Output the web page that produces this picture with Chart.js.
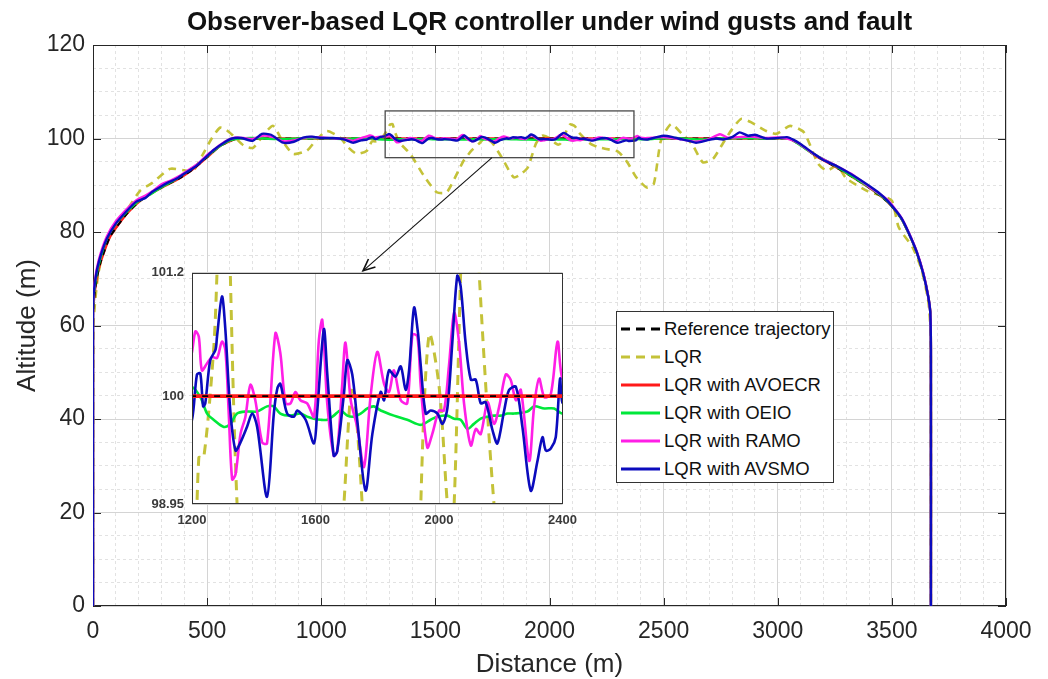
<!DOCTYPE html>
<html><head><meta charset="utf-8">
<script src="https://cdn.jsdelivr.net/npm/chart.js@4.4.1/dist/chart.umd.min.js"></script>
<style>
html,body{margin:0;padding:0;background:#fff;}
#wrap{position:relative;width:1048px;height:679px;overflow:hidden;background:#fff;}
#main{position:absolute;left:0;top:0;}
#inset{position:absolute;left:140px;top:257px;}
#legend{position:absolute;left:616px;top:311px;width:216px;height:170px;border:1px solid #333;background:#fff;font-family:"Liberation Sans",Arial,sans-serif;font-size:18.5px;color:#111;}
.row{position:absolute;left:0;height:28px;display:flex;align-items:center;}
.row svg{margin-left:3px;display:block;}
.row span{margin-left:3px;white-space:nowrap;}
</style></head>
<body>
<div id="wrap">
  <canvas id="main" width="1048" height="679"></canvas>
  <canvas id="inset" width="446" height="280"></canvas>
  <div id="legend"></div>
</div>
<script>
// ---------- data (Distance m, Altitude m) ----------
const refX = [0,0,10,30,75,150,220,300,380,440,500,560,630,680,1000,2000,3000,3050,3100,3160,3250,3320,3400,3480,3540,3575,3610,3638,3660,3668,3671,3671];
const refY = [0,62,68,73,79,84,87.2,89.5,91.5,93.5,96,98.5,100,100,100,100,100,100,98.6,96.5,94,92,89.5,86.5,83,79.6,75.5,71,66,63,55,0];

const avoecrX = refX.slice();
const avoecrY = refY.slice();

const lqrX = [0,2,20,50,88,140,206,260,337,400,438,480,520,556,585,614,660,701,750,789,830,877,937,980,1025,1082,1120,1156,1200,1222,1238,1270,1281,1300,1312,1324,1346,1390,1450,1506,1550,1600,1623,1660,1692,1719,1751,1790,1843,1875,1905,1941,1968,2000,2027,2038,2049,2070,2090,2112,2130,2178,2210,2243,2300,2340,2380,2427,2457,2488,2533,2580,2625,2672,2717,2760,2800,2840,2886,2950,2994,3054,3115,3177,3216,3260,3300,3391,3450,3500,3530,3591,3630,3660,3670,3671];
const lqrY = [0,60,70,77,80,84,88.8,90.5,93.5,93.2,93,96.5,100,102.3,101.8,100.6,98.5,98,101,102.7,99.5,96.7,97.4,99.8,101.6,100.2,98,96.7,97.4,99.4,99.4,100.45,101.2,102.9,103.1,101.2,98.95,96.7,92,88.5,88.5,93,95.2,97.5,98.95,100.1,98.95,96,91.7,92.4,93.8,98.95,100.6,100.1,98.95,98.7,98.95,101.2,103,102.6,101.2,98.95,98.2,97.8,97.2,95,91.7,89.5,90.3,99.5,103.1,101,98.8,94.9,95.7,99,102,104.2,103.4,101.6,101,102.7,101.3,94.6,93.1,94.2,91.5,88.8,87.8,86.7,81,76.7,72,65,58,0];

const oeioX = [0,0,8,25,60,100,150,200,250,300,350,400,450,500,550,600,640,700,800,900,1000,1100,1170,
  1200,1227,1249,1270,1303,1324,1346,1378,1411,1443,1465,1486,1519,1551,1573,1595,1616,1638,1659,1681,1703,1724,1746,1768,1789,1811,1854,1897,1941,1973,1995,2027,2049,2070,2092,2113,2135,2157,2178,2200,2222,2243,2286,2308,2341,2373,2400,
  2450,2550,2650,2750,2850,2950,3050,3100,3160,3250,3320,3400,3480,3540,3575,3610,3638,3660,3668,3671,3671];
const oeioY = [0,63,68.5,73,78.5,81.8,84.4,86.6,88,89.6,90.9,92.5,94.2,96.2,98.2,99.6,100,100.1,99.9,100,100.1,99.9,100.05,
  100.09,99.99,99.83,99.77,99.70,99.73,99.83,99.85,99.85,99.90,99.90,99.83,99.81,99.83,99.80,99.78,99.77,99.77,99.81,99.86,99.81,99.80,99.83,99.88,99.90,99.86,99.81,99.77,99.72,99.77,99.80,99.81,99.78,99.77,99.68,99.73,99.78,99.80,99.81,99.81,99.83,99.83,99.85,99.90,99.88,99.88,99.83,
  99.9,100.1,99.8,100,100.1,100,100,98.5,96.6,94.2,92.1,89.6,86.6,83,79.6,75.5,71,66,63,55,0];

const ramoX = [0,0,8,25,60,100,150,190,230,260,300,340,380,420,460,500,540,580,620,660,700,740,790,833,880,940,1000,1060,1100,1140,1175,
  1200,1211,1222,1232,1249,1265,1281,1297,1308,1319,1330,1341,1357,1373,1389,1405,1427,1443,1470,1486,1503,1519,1535,1551,1573,1595,1611,1622,1638,1659,1670,1686,1697,1714,1735,1757,1778,1800,1822,1838,1854,1876,1897,1914,1930,1941,1962,1978,2000,2016,2032,2049,2065,2081,2103,2119,2135,2157,2178,2195,2216,2232,2249,2265,2292,2308,2324,2341,2362,2384,2400,
  2430,2480,2540,2590,2640,2690,2747,2780,2830,2880,2950,3000,3040,3080,3120,3170,3250,3320,3400,3480,3540,3575,3610,3638,3660,3668,3671,3671];
const ramoY = [0,64,69.5,74,79,82.3,85,86.8,87.8,88.7,90.2,91,92,93.3,94.6,96.5,98,99.4,100.2,100.1,99.9,100.6,100.3,99.4,99.6,100.3,100.2,100,99.9,99.5,100.1,
  100.43,100.63,100.58,100.25,100.32,100.38,100.37,100.53,100.45,99.83,99.19,99.24,99.63,99.80,100.11,99.96,99.55,99.54,100.61,100.42,99.93,99.93,100.04,99.96,99.93,99.80,100.55,100.74,99.93,99.42,99.46,100.09,100.52,99.96,99.70,99.31,99.99,100.43,100.12,100.04,100.25,99.96,99.93,100.60,100.58,100.09,99.50,99.63,99.86,99.86,100.29,100.81,100.52,99.93,99.52,99.68,99.63,99.94,99.73,99.90,100.21,100.16,99.96,100.06,99.37,99.90,100.17,99.99,100.02,100.53,100.16,
  100.1,100.3,100.1,99.7,99.3,99.7,100.9,100.2,100.3,100.4,100.1,100.2,100,99.3,98,96.3,94.3,92.5,89.7,86.9,83.2,79.8,75.7,71.2,66,63,55,0];

const avsmoX = [0,0,8,25,60,100,150,190,230,260,300,330,370,410,450,490,530,570,610,650,700,740,780,833,880,920,960,1000,1050,1100,1140,1175,
  1200,1216,1227,1236,1243,1259,1276,1281,1297,1308,1324,1341,1357,1378,1395,1411,1443,1465,1476,1486,1508,1530,1541,1568,1595,1605,1627,1638,1659,1670,1692,1703,1719,1735,1762,1784,1811,1822,1838,1859,1876,1892,1903,1919,1932,1941,1957,1973,1995,2011,2027,2043,2059,2070,2086,2103,2119,2135,2151,2173,2189,2211,2227,2249,2270,2297,2319,2335,2346,2362,2378,2392,2400,
  2430,2470,2500,2540,2580,2610,2642,2690,2730,2760,2800,2833,2870,2900,2950,3000,3040,3070,3100,3160,3200,3250,3320,3400,3440,3480,3540,3575,3610,3638,3660,3668,3671,3671];
const avsmoY = [0,64,69,73.5,78.5,81.8,84.6,86.5,87.3,88.6,89.8,90.6,91.5,92.8,94,95.8,97.6,99,100,100.1,99.5,101,100.8,99.1,99.3,100.2,100.4,100.1,100.1,99.8,99.1,99.6,
  99.77,100.21,100.22,99.90,99.93,100.35,100.45,100.58,100.97,100.65,99.86,99.47,99.55,99.70,99.83,99.70,99.02,99.83,100.07,100.12,99.83,99.80,99.86,99.77,99.54,99.83,100.65,100.22,99.42,99.46,100.02,100.35,100.21,99.77,99.08,99.63,100.04,99.96,100.25,100.19,100.29,100.06,100.25,100.86,100.61,100.29,99.83,99.86,99.83,99.73,99.88,100.52,101.17,101.07,100.52,100.16,100.16,99.93,99.94,99.67,99.54,99.86,100.06,100.09,99.70,99.08,99.37,99.60,99.47,99.49,99.60,100.17,99.93,
  99.8,100.3,100.6,100.3,99.8,99.5,99.1,99.6,100,99.8,100.3,101.3,100.6,100.8,100,100.1,100.3,99.7,98.8,96.7,95.4,94.3,92.4,89.9,88.5,86.7,83.1,79.7,75.6,71,66,63,55,0];

// ticks
const xTickValues = [0,500,1000,1500,2000,2500,3000,3500,4000];
const yTickValues = [0,20,40,60,80,100,120];
const insetXTicks = [1200,1600,2000,2400];
const insetYTicks = [98.95,100,101.2];

// annotations (data units)
const zoomBox = {x0:1280, x1:2370, y0:95.9, y1:105.9};
const arrowFrom = [1748, 95.9];
const arrowTo = [1183, 71.7];

const seriesNames = ['Reference trajectory','LQR','LQR with AVOECR','LQR with OEIO','LQR with RAMO','LQR with AVSMO'];
const colors = {ref:'#000000', lqr:'#c4c238', avoecr:'#ff1a1a', oeio:'#00e83a', ramo:'#ff1ee6', avsmo:'#0b0bbd'};

function pts(xs, ys){ return xs.map((x,i)=>({x:x, y:ys[i]})); }

const FONT = '"Liberation Sans", Arial, sans-serif';

function makeDatasets(inset){
  const t = inset ? 0.3 : 0.2;
  const w = inset ? 2.6 : 2.4;
  return [
    {label:seriesNames[0], data:pts(refX,refY), borderColor:colors.ref, borderWidth: inset?1.6:2, borderDash: inset?[6,6]:[6,5], order: inset?0:3},
    {label:seriesNames[1], data:pts(lqrX,lqrY), borderColor:colors.lqr, borderWidth: inset?3:2.6, borderDash: inset?[10,7]:[8,6], order:5},
    {label:seriesNames[2], data:pts(avoecrX,avoecrY), borderColor:colors.avoecr, borderWidth: inset?3.6:2.4, order: inset?1:4},
    {label:seriesNames[3], data:pts(oeioX,oeioY), borderColor:colors.oeio, borderWidth:w, order: inset?4:2},
    {label:seriesNames[4], data:pts(ramoX,ramoY), borderColor:colors.ramo, borderWidth:w, order: inset?3:1},
    {label:seriesNames[5], data:pts(avsmoX,avsmoY), borderColor:colors.avsmo, borderWidth:w, order: inset?2:0}
  ].map(d => Object.assign(d, {pointRadius:0, fill:false, tension:t, borderCapStyle:'butt', borderJoinStyle:'round'}));
}

// ---------- main chart plugin ----------
const framePlugin = {
  id:'frame',
  beforeDatasetsDraw(chart){
    const {ctx, chartArea:a, scales:{x, y}} = chart;
    ctx.save();
    ctx.strokeStyle = '#262626';
    ctx.lineWidth = 1;
    ctx.beginPath();
    xTickValues.forEach(v => {
      const px = Math.round(x.getPixelForValue(v)) + 0.5;
      ctx.moveTo(px, a.bottom); ctx.lineTo(px, a.bottom - 8);
      ctx.moveTo(px, a.top); ctx.lineTo(px, a.top + 8);
    });
    yTickValues.forEach(v => {
      const py = Math.round(y.getPixelForValue(v)) + 0.5;
      ctx.moveTo(a.left, py); ctx.lineTo(a.left + 8, py);
      ctx.moveTo(a.right, py); ctx.lineTo(a.right - 8, py);
    });
    ctx.stroke();
    ctx.strokeRect(Math.round(a.left)+0.5, Math.round(a.top)+0.5, Math.round(a.right-a.left)-1, Math.round(a.bottom-a.top)-1);
    ctx.restore();
  },
  afterDatasetsDraw(chart){
    const {ctx, scales:{x, y}} = chart;
    ctx.save();
    // zoom rectangle
    const rx0 = x.getPixelForValue(zoomBox.x0), rx1 = x.getPixelForValue(zoomBox.x1);
    const ry0 = y.getPixelForValue(zoomBox.y1), ry1 = y.getPixelForValue(zoomBox.y0);
    ctx.strokeStyle = '#4a4a4a';
    ctx.lineWidth = 1.3;
    ctx.strokeRect(rx0, ry0, rx1-rx0, ry1-ry0);
    // arrow
    const ax0 = x.getPixelForValue(arrowFrom[0]), ay0 = y.getPixelForValue(arrowFrom[1]);
    const ax1 = x.getPixelForValue(arrowTo[0]), ay1 = y.getPixelForValue(arrowTo[1]);
    ctx.strokeStyle = '#111';
    ctx.lineWidth = 1.1;
    ctx.beginPath(); ctx.moveTo(ax0, ay0); ctx.lineTo(ax1, ay1); ctx.stroke();
    const ang = Math.atan2(ay1-ay0, ax1-ax0), L = 13, sp = 0.42;
    ctx.beginPath();
    ctx.moveTo(ax1 - L*Math.cos(ang-sp), ay1 - L*Math.sin(ang-sp));
    ctx.lineTo(ax1, ay1);
    ctx.lineTo(ax1 - L*Math.cos(ang+sp), ay1 - L*Math.sin(ang+sp));
    ctx.lineWidth = 1.6;
    ctx.stroke();
    ctx.restore();
  }
};

new Chart(document.getElementById('main'), {
  type:'line',
  data:{datasets: makeDatasets(false)},
  options:{
    responsive:false, animation:false, devicePixelRatio:1,
    layout:{padding:{top:0, right:42, bottom:0, left:0}},
    plugins:{
      legend:{display:false}, tooltip:{enabled:false},
      title:{display:true, fullSize:false, text:'Observer-based LQR controller under wind gusts and fault',
        color:'#111', font:{family:FONT, size:26, weight:'bold', lineHeight:1}, padding:{top:10, bottom:9}}
    },
    scales:{
      xm:{type:'linear', position:'bottom', min:0, max:4000,
        ticks:{display:false, stepSize:100}, grid:{color:'#e2e2e2', lineWidth:1, drawTicks:false},
        border:{display:false, dash:[3,3]}, afterFit(s){ s.height = 0; }},
      ym:{type:'linear', position:'left', min:0, max:120,
        ticks:{display:false, stepSize:5}, grid:{color:'#e2e2e2', lineWidth:1, drawTicks:false},
        border:{display:false, dash:[3,3]}, afterFit(s){ s.width = 0; }},
      x:{type:'linear', position:'bottom', min:0, max:4000,
        afterBuildTicks(s){ s.ticks = xTickValues.map(v=>({value:v})); },
        ticks:{color:'#262626', padding:12, font:{family:FONT, size:23}, maxRotation:0, callback:v=>String(v)},
        grid:{color:'#d4d4d4', lineWidth:1, drawTicks:false},
        border:{display:false},
        title:{display:true, text:'Distance (m)', color:'#262626', font:{family:FONT, size:26, lineHeight:1}, padding:{top:0, bottom:1}},
        afterFit(s){ s.height = 73; }},
      y:{type:'linear', position:'left', min:0, max:120,
        afterBuildTicks(s){ s.ticks = yTickValues.map(v=>({value:v})); },
        ticks:{color:'#262626', padding:8, font:{family:FONT, size:23}, callback:v=>String(v)},
        grid:{color:'#d4d4d4', lineWidth:1, drawTicks:false},
        border:{display:false},
        title:{display:true, text:'Altitude (m)', color:'#262626', font:{family:FONT, size:26, lineHeight:1}, padding:{top:15, bottom:0}},
        afterFit(s){ s.width = 93; }}
    }
  },
  plugins:[framePlugin]
});

// ---------- inset ----------
const insetPlugin = {
  id:'insetFrame',
  beforeDraw(chart){
    const {ctx, chartArea:a} = chart;
    ctx.save(); ctx.fillStyle = '#fff';
    ctx.fillRect(a.left, a.top, a.right-a.left, a.bottom-a.top);
    ctx.restore();
  },
  afterDraw(chart){
    const {ctx, chartArea:a} = chart;
    ctx.save(); ctx.strokeStyle = '#333'; ctx.lineWidth = 1;
    ctx.strokeRect(Math.round(a.left)+0.5, Math.round(a.top)+0.5, Math.round(a.right-a.left)-1, Math.round(a.bottom-a.top)-1);
    ctx.restore();
  }
};

new Chart(document.getElementById('inset'), {
  type:'line',
  data:{datasets: makeDatasets(true)},
  options:{
    responsive:false, animation:false, devicePixelRatio:1,
    layout:{padding:{top:6, right:12, bottom:0, left:0}},
    plugins:{legend:{display:false}, tooltip:{enabled:false}, title:{display:false}},
    scales:{
      x:{type:'linear', position:'bottom', min:1200, max:2400,
        afterBuildTicks(s){ s.ticks = insetXTicks.map(v=>({value:v})); },
        ticks:{color:'#3a3a3a', padding:9, font:{family:FONT, size:13, weight:'bold'}, maxRotation:0, callback:v=>String(v)},
        grid:{color:'#cfcfcf', lineWidth:1, drawTicks:false}, border:{display:false},
        afterFit(s){ s.height = 33; }},
      y:{type:'linear', position:'left', min:98.95, max:101.2,
        afterBuildTicks(s){ s.ticks = insetYTicks.map(v=>({value:v})); },
        ticks:{color:'#3a3a3a', padding:8, font:{family:FONT, size:13, weight:'bold'}, callback:v=>String(v)},
        grid:{color:'#cfcfcf', lineWidth:1, drawTicks:false}, border:{display:false},
        afterFit(s){ s.width = 52; }}
    }
  },
  plugins:[insetPlugin]
});

// ---------- legend ----------
const legendItems = [
  {name:seriesNames[0], color:colors.ref, dash:true},
  {name:seriesNames[1], color:colors.lqr, dash:true},
  {name:seriesNames[2], color:colors.avoecr, dash:false},
  {name:seriesNames[3], color:colors.oeio, dash:false},
  {name:seriesNames[4], color:colors.ramo, dash:false},
  {name:seriesNames[5], color:colors.avsmo, dash:false}
];
const leg = document.getElementById('legend');
legendItems.forEach((it, i) => {
  const row = document.createElement('div');
  row.className = 'row';
  row.style.top = (3 + i*28) + 'px';
  row.innerHTML = '<svg width="41" height="6"><line x1="1" y1="3" x2="40" y2="3" stroke="' + it.color +
    '" stroke-width="3"' + (it.dash ? ' stroke-dasharray="9,6"' : '') + '/></svg><span></span>';
  row.querySelector('span').textContent = it.name;
  leg.appendChild(row);
});
</script>
</body></html>
